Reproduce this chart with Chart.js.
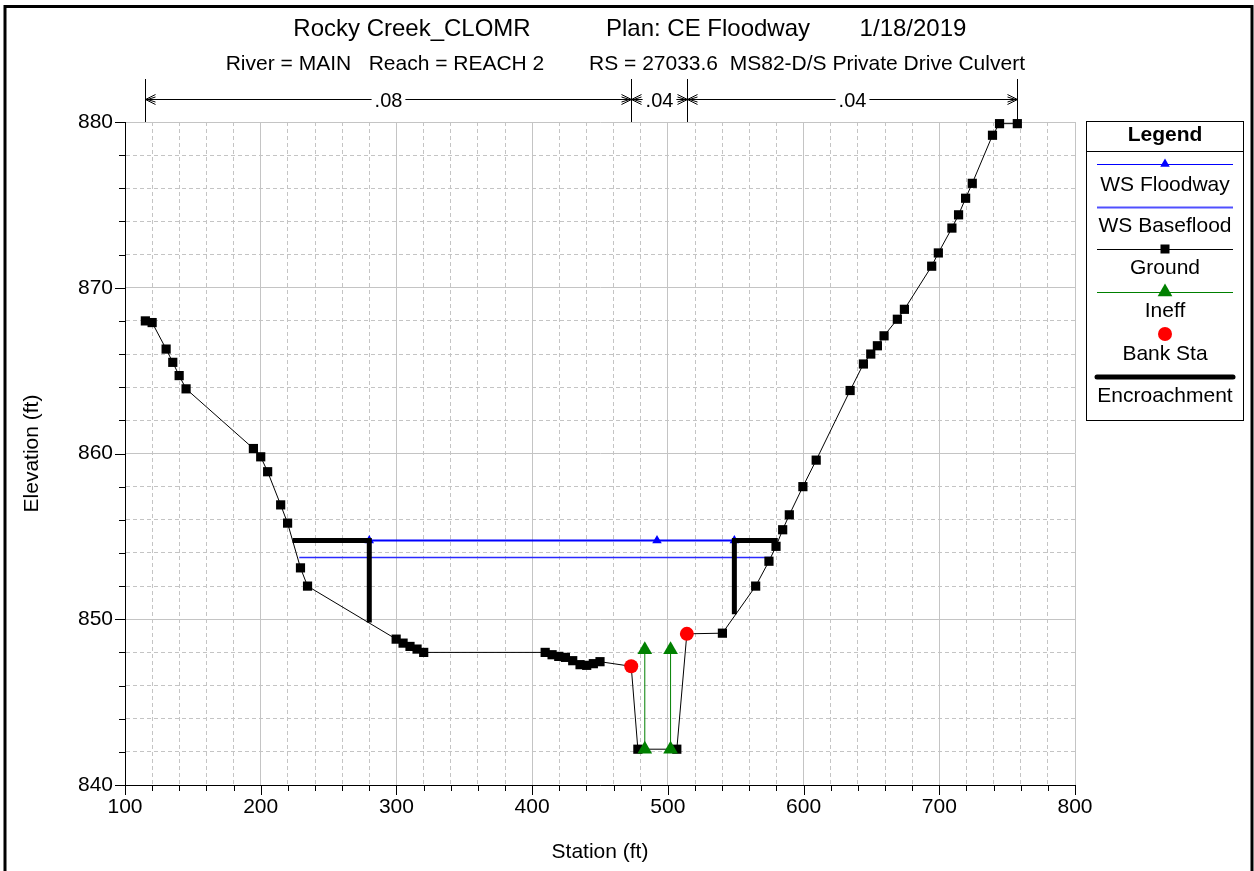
<!DOCTYPE html>
<html>
<head>
<meta charset="utf-8">
<title>Rocky Creek_CLOMR</title>
<script src="https://cdn.jsdelivr.net/npm/chart.js@4/dist/chart.umd.min.js"></script>
<style>
  html, body { margin: 0; padding: 0; background: #fff; }
  #wrap { width: 1254px; height: 871px; }
</style>
</head>
<body>
<div id="wrap"><canvas id="xsChart" width="1254" height="871"></canvas></div>
<script>
// Cross section RS 27033.6 - ground, water surfaces, encroachments
const groundSta = [115, 120, 130.3, 135.2, 139.9, 145, 194.6, 200, 205.1, 214.7, 219.8, 229.3, 234.5,
  299.8, 304.9, 310, 315.2, 320.1, 409.6, 414.7, 419.6, 424.5, 429.9, 435.3, 440.2, 445.1, 450,
  473, 477.9, 506.6, 514, 540.2, 564.7, 574.5, 579.7, 584.6, 589.5, 599.5, 609.3, 634.3, 644.1,
  649.5, 654.4, 659.3, 669.1, 674.3, 694.4, 699.3, 709.3, 714.2, 719.4, 724.3, 739.2, 744.4, 757.5];
const groundElev = [868.0, 867.9, 866.3, 865.5, 864.7, 863.9, 860.3, 859.8, 858.9, 856.9, 855.8, 853.1, 852.0,
  848.8, 848.56, 848.36, 848.2, 848.0, 848.0, 847.86, 847.76, 847.7, 847.5, 847.26, 847.22, 847.32, 847.44,
  847.16, 842.16, 842.16, 849.12, 849.16, 852.0, 853.5, 854.4, 855.4, 856.3, 858.0, 859.6, 863.8, 865.4,
  866.0, 866.5, 867.1, 868.1, 868.7, 871.3, 872.1, 873.6, 874.4, 875.4, 876.3, 879.2, 879.9, 879.9];

const bankSta = [473, 514];
const bankElev = [847.16, 849.12];

const floodwaySta = [280, 492, 549];
const floodwayElev = [854.75, 854.75, 854.75];

const basefloodSta = [228.4, 576];
const basefloodElev = [853.73, 853.73];

const encLeftSta = [223.5, 280, 280];
const encLeftElev = [854.75, 854.75, 849.8];
const encRightSta = [549, 549, 581];
const encRightElev = [850.3, 854.75, 854.75];

const ineffSta = [483, 502];
const ineffLow = [842.16, 842.16];
const ineffHigh = [848.16, 848.16];

// Manning's n regions along the top
const nBreakSta = [115, 473, 514, 757.5];
const nValues = ['.08', '.04', '.04'];

const xTickLabels = [100, 200, 300, 400, 500, 600, 700, 800];
const yTickLabels = [840, 850, 860, 870, 880];

const legendLabels = ['WS Floodway', 'WS Baseflood', 'Ground', 'Ineff', 'Bank Sta', 'Encroachment'];

const FONT = "'Liberation Sans', Arial, Helvetica, sans-serif";
Chart.defaults.font.family = FONT;
Chart.defaults.color = '#000';

function pts(xs, ys) {
  return xs.map((x, i) => ({ x: x, y: ys[i] }));
}

const GRID = '#c4c4c4';

function isMajor(list, v) {
  return list.indexOf(Math.round(v * 1000) / 1000) !== -1;
}

// titles, n values, legend, axis titles, outer frame
const extras = {
  id: 'extras',
  afterDraw(chart) {
    const ctx = chart.ctx;
    const xs = chart.scales.x, ys = chart.scales.y;
    const area = chart.chartArea;
    ctx.save();

    // outer frame
    ctx.strokeStyle = '#000';
    ctx.lineWidth = 3;
    ctx.strokeRect(5, 6.5, 1247, 1000);

    // titles
    ctx.fillStyle = '#000';
    ctx.textBaseline = 'alphabetic';
    ctx.textAlign = 'center';
    ctx.font = '24px ' + FONT;
    ctx.fillText('Rocky Creek_CLOMR', 412, 36);
    ctx.fillText('Plan: CE Floodway', 708, 36);
    ctx.fillText('1/18/2019', 913, 36);
    ctx.font = '21px ' + FONT;
    ctx.fillText('River = MAIN   Reach = REACH 2', 385, 70);
    ctx.fillText('RS = 27033.6  MS82-D/S Private Drive Culvert', 807, 70);

    // minor / major tick marks
    ctx.strokeStyle = '#000';
    ctx.lineWidth = 1;
    ctx.beginPath();
    xs.ticks.forEach(t => {
      const px = Math.round(xs.getPixelForValue(t.value)) + 0.5;
      const len = isMajor(xTickLabels, t.value) ? 10 : 6;
      ctx.moveTo(px, area.bottom);
      ctx.lineTo(px, area.bottom + len);
    });
    ys.ticks.forEach(t => {
      const py = Math.round(ys.getPixelForValue(t.value)) + 0.5;
      const len = isMajor(yTickLabels, t.value) ? 10 : 6;
      ctx.moveTo(area.left, py);
      ctx.lineTo(area.left - len, py);
    });
    ctx.stroke();

    // n value brackets
    const ny = 99.5;
    const bx = nBreakSta.map(s => Math.round(xs.getPixelForValue(s)) + 0.5);
    ctx.beginPath();
    bx.forEach(x => { ctx.moveTo(x, 79); ctx.lineTo(x, area.top); });
    ctx.stroke();
    ctx.font = '20px ' + FONT;
    ctx.textBaseline = 'middle';
    ctx.textAlign = 'center';
    for (let i = 0; i < nValues.length; i++) {
      const x1 = bx[i], x2 = bx[i + 1];
      const mid = (x1 + x2) / 2;
      const gap = ctx.measureText(nValues[i]).width / 2 + 3;
      ctx.beginPath();
      ctx.moveTo(x1, ny); ctx.lineTo(mid - gap, ny);
      ctx.moveTo(mid + gap, ny); ctx.lineTo(x2, ny);
      // arrow heads
      ctx.moveTo(x1 + 10, ny - 5); ctx.lineTo(x1, ny); ctx.lineTo(x1 + 10, ny + 5);
      ctx.moveTo(x1 + 10, ny - 2.5); ctx.lineTo(x1 + 2, ny); ctx.lineTo(x1 + 10, ny + 2.5);
      ctx.moveTo(x2 - 10, ny - 5); ctx.lineTo(x2, ny); ctx.lineTo(x2 - 10, ny + 5);
      ctx.moveTo(x2 - 10, ny - 2.5); ctx.lineTo(x2 - 2, ny); ctx.lineTo(x2 - 10, ny + 2.5);
      ctx.stroke();
      ctx.fillText(nValues[i], mid, ny + 2);
    }

    // axis titles
    ctx.font = '21px ' + FONT;
    ctx.fillText('Station (ft)', (area.left + area.right) / 2, 852);
    ctx.save();
    ctx.translate(32, (area.top + area.bottom) / 2);
    ctx.rotate(-Math.PI / 2);
    ctx.fillText('Elevation (ft)', 0, 0);
    ctx.restore();

    // legend box
    const L = 1086.5, R = 1243.5, T = 121.5, B = 420.5, cx = (L + R) / 2;
    const lx1 = 1097, lx2 = 1233;
    ctx.lineWidth = 1;
    ctx.strokeStyle = '#000';
    ctx.strokeRect(L, T, R - L, B - T);
    ctx.beginPath(); ctx.moveTo(L, 151.5); ctx.lineTo(R, 151.5); ctx.stroke();
    ctx.font = 'bold 21px ' + FONT;
    ctx.fillText('Legend', cx, 135);

    const symY = [164, 207, 249, 292, 334, 377];
    const txtY = [185, 226, 268, 311, 354, 396];
    const hline = (y, color, w) => {
      ctx.strokeStyle = color; ctx.lineWidth = w;
      ctx.beginPath(); ctx.moveTo(lx1, y); ctx.lineTo(lx2, y); ctx.stroke();
    };
    const tri = (x, y, r, color) => {
      ctx.fillStyle = color;
      ctx.beginPath();
      ctx.moveTo(x, y - r);
      ctx.lineTo(x + r * 0.866, y + r / 2);
      ctx.lineTo(x - r * 0.866, y + r / 2);
      ctx.closePath(); ctx.fill();
    };
    hline(symY[0] + 0.5, '#0000ff', 1);
    tri(cx, symY[0], 5.5, '#0000ff');
    hline(symY[1] + 0.5, '#5050ff', 2);
    hline(symY[2] + 0.5, '#000', 1);
    ctx.fillStyle = '#000';
    ctx.fillRect(cx - 4.5, symY[2] - 4.5, 9, 9);
    hline(symY[3] + 0.5, '#008000', 1);
    tri(cx, symY[3], 8.5, '#008000');
    ctx.fillStyle = '#ff0000';
    ctx.beginPath(); ctx.arc(cx, symY[4], 7, 0, Math.PI * 2); ctx.fill();
    ctx.strokeStyle = '#000'; ctx.lineWidth = 5; ctx.lineCap = 'round';
    ctx.beginPath(); ctx.moveTo(lx1, symY[5]); ctx.lineTo(lx2, symY[5]); ctx.stroke();
    ctx.lineCap = 'butt';

    ctx.fillStyle = '#000';
    ctx.font = '21px ' + FONT;
    legendLabels.forEach((lab, i) => ctx.fillText(lab, cx, txtY[i]));

    ctx.restore();
  }
};

const ineffSets = ineffSta.map((s, i) => ({
  label: 'Ineff',
  data: [{ x: s, y: ineffLow[i] }, { x: s, y: ineffHigh[i] }],
  showLine: true,
  clip: false,
  borderColor: '#008000',
  borderWidth: 1,
  pointStyle: 'triangle',
  pointRadius: 8.5,
  pointBackgroundColor: '#008000',
  pointBorderWidth: 0
}));

const encStyle = {
  label: 'Encroachment',
  showLine: true,
  clip: false,
  borderColor: '#000',
  borderWidth: 5,
  borderJoinStyle: 'miter',
  pointRadius: 0
};

new Chart(document.getElementById('xsChart'), {
  type: 'scatter',
  data: {
    datasets: [
      {
        label: 'Bank Sta',
        data: pts(bankSta, bankElev),
        showLine: false,
        clip: false,
        pointStyle: 'circle',
        pointRadius: 7,
        pointBackgroundColor: '#ff0000',
        pointBorderWidth: 0
      },
      ...ineffSets,
      Object.assign({ data: pts(encLeftSta, encLeftElev) }, encStyle),
      Object.assign({ data: pts(encRightSta, encRightElev) }, encStyle),
      {
        label: 'Ground',
        data: pts(groundSta, groundElev),
        showLine: true,
        clip: false,
        borderColor: '#000',
        borderWidth: 1,
        pointStyle: 'rect',
        pointRadius: 6.5,
        pointBackgroundColor: '#000',
        pointBorderWidth: 0
      },
      {
        label: 'WS Floodway',
        data: pts(floodwaySta, floodwayElev),
        showLine: true,
        clip: false,
        borderColor: '#0000ff',
        borderWidth: 2,
        pointStyle: 'triangle',
        pointRadius: 5.5,
        pointBackgroundColor: '#0000ff',
        pointBorderWidth: 0
      },
      {
        label: 'WS Baseflood',
        data: pts(basefloodSta, basefloodElev),
        showLine: true,
        clip: false,
        borderColor: '#2a2aff',
        borderWidth: 1.5,
        pointRadius: 0
      }
    ]
  },
  options: {
    responsive: false,
    animation: false,
    events: [],
    layout: { padding: { left: 0, top: 122, right: 179, bottom: 0 } },
    plugins: {
      legend: { display: false },
      title: { display: false },
      tooltip: { enabled: false }
    },
    scales: {
      x: {
        type: 'linear',
        min: 100,
        max: 800,
        afterFit: (scale) => { scale.height = 86; },
        ticks: {
          stepSize: 20,
          maxTicksLimit: 100,
          autoSkip: false,
          maxRotation: 0,
          padding: 0,
          font: { size: 21 },
          color: '#000',
          callback: (v) => isMajor(xTickLabels, v) ? String(v) : ''
        },
        grid: {
          color: (c) => GRID,
          lineWidth: 1,
          tickLength: 10,
          tickColor: 'rgba(0,0,0,0)'
        },
        border: {
          color: '#000',
          width: 1,
          dash: (c) => (c.tick && !isMajor(xTickLabels, c.tick.value)) ? [4, 3] : []
        }
      },
      y: {
        type: 'linear',
        min: 840,
        max: 880,
        afterFit: (scale) => { scale.width = 125; },
        ticks: {
          stepSize: 2,
          maxTicksLimit: 100,
          autoSkip: false,
          padding: 2,
          font: { size: 21 },
          color: '#000',
          callback: (v) => isMajor(yTickLabels, v) ? String(v) : ''
        },
        grid: {
          color: (c) => GRID,
          lineWidth: 1,
          tickLength: 10,
          tickColor: 'rgba(0,0,0,0)'
        },
        border: {
          color: '#000',
          width: 1,
          dash: (c) => (c.tick && !isMajor(yTickLabels, c.tick.value)) ? [4, 3] : []
        }
      }
    }
  },
  plugins: [extras]
});
</script>
</body>
</html>
